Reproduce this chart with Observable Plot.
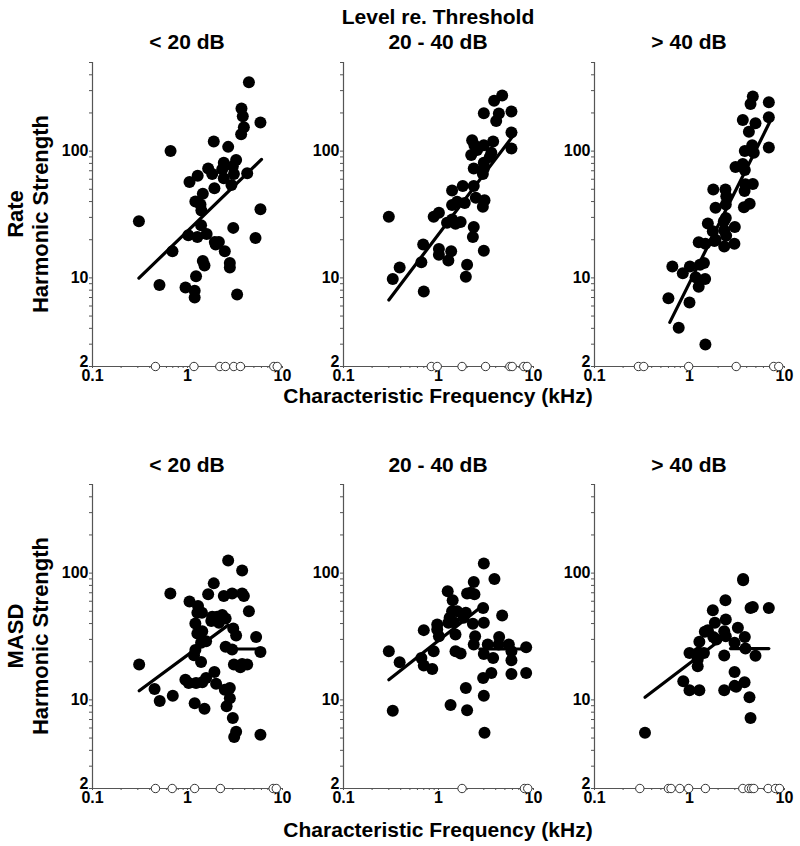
<!DOCTYPE html>
<html>
<head>
<meta charset="utf-8">
<script src="https://cdn.jsdelivr.net/npm/d3@7"></script>
<script src="https://cdn.jsdelivr.net/npm/@observablehq/plot@0.6"></script>
<style>
  body { margin: 0; background: #fff; }
  #fig { position: relative; width: 800px; height: 846px; font-family: "Liberation Sans", Arial, sans-serif; font-weight: bold; color: #000; }
  .lab { position: absolute; white-space: nowrap; transform: translate(-50%, -50%); font-size: 21px; font-weight: bold; line-height: 1; }
  .rot { transform: translate(-50%, -50%) rotate(-90deg); font-size: 22px; }
  .panel { position: absolute; }
</style>
</head>
<body>
<div id="fig"></div>
<script>
// ---- Text ----
const superTitle = "Level re. Threshold";
const levelTitles = ["< 20 dB", "20 - 40 dB", "> 40 dB"];
const rowNames = ["Rate", "MASD"];
const yTitle = "Harmonic Strength";
const xTitle = "Characteristic Frequency (kHz)";

// ---- Axis ticks ----
const xTickValues = [0.1,0.2,0.3,0.4,0.5,0.6,0.7,0.8,0.9,1,2,3,4,5,6,7,8,9,10];
const xTickLabels = [0.1, 1, 10];
const yTickValues = [2,3,4,5,6,7,8,9,10,20,30,40,50,60,70,80,90,100,200,300,400,500];
const yTickLabels = [10, 100, 500];
const yBottomLabel = [2];

// ---- Data: [CF (kHz), harmonic strength] ----
const rateLow = [[4.43,349],[3.70,217],[3.82,188],[3.92,154],[3.67,136],[5.86,168],[0.663,100],[1.89,119],[2.68,108],[2.41,81],[3.25,85],[3.0,76],[2.32,72],[1.65,73],[1.82,66],[1.28,64],[3.08,66],[4.25,67],[2.41,61],[1.05,57],[2.9,54],[1.92,51],[1.45,46],[1.21,40],[1.37,38],[1.40,34],[0.308,28],[1.39,26],[3.03,24.8],[1.02,21.7],[1.27,21],[1.59,22.2],[5.2,20.6],[1.94,19.2],[2.14,19.2],[1.98,18.3],[2.47,16.2],[0.695,16.2],[5.86,34.8],[1.45,13.6],[1.51,12.5],[2.79,13.1],[2.79,12.1],[1.23,10.3],[0.507,8.8],[0.953,8.4],[1.19,7.9],[1.19,7.0],[3.33,7.4]];
const rateMid = [[4.68,274],[3.85,250],[3.0,199],[4.32,198],[4.05,173],[5.86,205],[5.86,140],[5.86,105],[2.26,122],[2.39,111],[2.55,102],[3.0,111],[3.76,119],[2.21,93],[3.47,90],[3.6,97],[3.0,81],[2.35,73],[3.0,73],[2.93,66],[1.80,53],[2.35,53],[1.39,49],[2.47,42.9],[3.05,41],[1.89,39],[1.57,39.8],[1.39,37.5],[2.93,36.4],[1.01,32.6],[0.89,30.3],[0.30,30.3],[1.23,27.2],[1.39,28.9],[1.71,27.6],[1.51,26.7],[2.35,25.2],[2.3,21],[0.69,18.3],[1.01,16.9],[1.01,15.2],[1.36,16.2],[3.0,16.4],[1.27,13.7],[0.66,13.3],[2.0,12.7],[0.39,12.1],[0.33,9.8],[1.94,10.2],[0.70,7.8]];
const rateHigh = [[4.64,270],[4.39,235],[6.84,243],[6.84,185],[3.64,176],[4.95,166],[4.22,142],[4.57,111],[3.82,100],[4.75,97],[6.84,107],[3.64,79],[3.05,75],[3.82,71],[3.88,54.7],[4.64,55],[3.80,48.4],[1.78,49.9],[2.39,49.9],[2.44,44],[2.41,38],[1.88,35.7],[3.74,36],[4.3,38.4],[2.41,29.7],[1.56,26.9],[2.30,28],[3.0,25.2],[2.32,23.8],[1.76,23.3],[2.43,21.5],[1.88,20],[1.25,19.1],[1.47,18.6],[1.83,19.5],[2.32,17.7],[2.97,18.6],[1.42,13.1],[1.29,12.7],[1.01,12.3],[0.66,12.3],[0.85,10.9],[1.16,10.1],[1.46,9.8],[1.25,8.5],[0.60,6.9],[1.0,6.4],[0.77,4.05],[1.47,2.98]];
const masdLow = [[2.68,126],[3.76,105],[0.66,69],[1.89,83],[1.65,68],[2.41,66],[2.95,69],[3.76,69],[3.92,66],[1.05,59.6],[1.29,55],[1.27,48.7],[1.42,48.7],[4.43,50],[1.82,45.3],[2.05,45.3],[2.32,46.7],[2.52,43.9],[1.78,41.9],[2.14,40.6],[1.21,40.1],[3.03,36.6],[1.43,34.8],[1.27,33.4],[3.25,32.2],[5.28,31.4],[1.57,29],[1.39,28.2],[2.52,26.2],[2.95,25],[1.21,24.7],[1.17,22.5],[5.86,23.9],[1.39,19.9],[0.31,19],[3.08,19],[3.76,19.2],[4.25,19],[3.6,18.1],[1.92,16.6],[0.95,14.4],[1.03,13.6],[1.23,13.6],[1.43,13.8],[1.57,14.9],[2.0,13.4],[0.45,12.2],[2.47,12.0],[2.79,12.4],[0.70,10.8],[2.79,10.3],[0.51,9.8],[1.19,9.4],[2.58,8.9],[1.51,8.5],[3.0,7.2],[3.25,5.6],[3.1,5.1],[5.86,5.3]];
const masdMid = [[3.0,119],[3.88,90],[2.35,85],[1.25,72],[2.18,70],[2.39,68],[2.0,69],[1.41,61],[2.95,53],[1.39,50],[1.57,50],[1.94,48.7],[4.68,46.4],[1.31,44.5],[1.84,44.5],[1.27,40.6],[1.45,41],[2.3,39.8],[3.0,40.6],[0.97,39.4],[0.97,35.9],[0.70,35.5],[1.51,32.8],[2.43,31.8],[1.01,31.8],[4.35,31.4],[2.35,27.3],[4.3,27.3],[5.5,27.3],[8.37,26],[3.3,27.3],[0.89,24.2],[1.51,24.2],[1.71,23.2],[3.0,23],[0.30,24.2],[5.86,24.2],[3.76,21.4],[0.66,21.4],[0.39,19.8],[0.70,18.7],[5.86,20.5],[0.86,17.5],[3.6,16.3],[5.86,16.0],[8.37,16.3],[2.95,14.9],[1.94,12.4],[3.0,10.8],[1.34,9.1],[2.0,8.3],[0.33,8.2],[3.05,5.5]];
const masdHigh = [[3.67,90],[3.67,88],[2.39,61],[1.76,51],[4.39,53],[4.64,54],[6.84,53],[2.41,43],[1.85,40.6],[3.23,37],[1.56,35.5],[1.45,34.5],[2.32,34.8],[2.41,31.8],[1.78,31.4],[1.92,29.9],[3.82,31.3],[2.98,28.2],[1.27,28.7],[3.88,25.4],[1.0,23.4],[1.25,23.6],[1.42,23.4],[4.95,22.3],[2.32,22.4],[1.22,20.8],[1.22,18.4],[2.98,16.6],[0.86,14],[3.80,13.8],[2.98,12.9],[3.1,12.7],[1.0,11.9],[1.27,11.9],[2.32,11.9],[4.28,10.5],[4.39,7.2],[0.34,5.5]];

// Units with no measurable harmonic strength (plotted on the x axis), CF in kHz
const rateLowZero = [0.46,1.17,2.19,2.51,3.07,3.61,8.1,8.8];
const rateMidZero = [0.84,0.97,1.77,3.13,5.64,5.97,7.9,8.57];
const rateHighZero = [0.29,0.33,0.98,3.1,7.7,8.7];
const masdLowZero = [0.46,0.69,1.19,2.22,7.98,8.6];
const masdMidZero = [1.77,8.03,8.7];
const masdHighZero = [0.30,0.60,0.64,0.79,0.98,1.47,3.64,4.22,4.5,4.75,6.73,8.03,8.85];

// Fitted lines: [CF, strength] end points; each panel has one or two segments
const rateLowFit = [[[0.308,9.95],[6.01,86]]];
const rateMidFit = [[[0.30,6.7],[6.47,140]]];
const rateHighFit = [[[0.62,4.46],[6.95,168]]];
const masdLowFit = [[[0.31,11.8],[2.68,38.9]], [[2.84,25.2],[6.37,25.2]]];
const masdMidFit = [[[0.30,14.4],[2.72,53]], [[2.72,25.2],[8.57,25.2]]];
const masdHighFit = [[[0.34,10.5],[2.21,30.5]], [[2.70,25.4],[6.84,25.4]]];

const grid = [
  [[rateLow, rateLowZero, rateLowFit], [rateMid, rateMidZero, rateMidFit], [rateHigh, rateHighZero, rateHighFit]],
  [[masdLow, masdLowZero, masdLowFit], [masdMid, masdMidZero, masdMidFit], [masdHigh, masdHighZero, masdHighFit]]
];

// ---- Layout ----
const fig = document.getElementById("fig");
const axisLeft = [92, 343, 594];
const plotTop = [62, 484];
const mL = 40, mR = 15, mT = 10, mB = 22, plotW = 190, plotH = 304;
const axisColor = "#555";
const FONT = '"Liberation Sans", Arial, sans-serif';

function label(text, x, y, extra) {
  const d = document.createElement("div");
  d.className = "lab" + (extra ? " " + extra : "");
  d.textContent = text;
  d.style.left = x + "px";
  d.style.top = y + "px";
  fig.appendChild(d);
}

grid.forEach((row, ri) => {
  row.forEach(([pts, zeros, fits], ci) => {
    const segs = fits.flatMap((s, i) => s.map(p => ({x: p[0], y: p[1], seg: i})));
    const svg = Plot.plot({
      width: plotW + mL + mR,
      height: plotH + mT + mB,
      marginLeft: mL, marginRight: mR, marginTop: mT, marginBottom: mB,
      x: {type: "log", domain: [0.1, 10]},
      y: {type: "log", domain: [2, 500]},
      style: {fontFamily: FONT, fontSize: "16px", fontWeight: "bold", color: "#000", background: "transparent", overflow: "visible"},
      marks: [
        Plot.axisY({ticks: yTickValues, tickSize: 3, tickPadding: 1, stroke: axisColor, label: null,
          tickFormat: d => yTickLabels.includes(d) ? String(d) : "", fill: "#000",
          fontSize: 16, fontWeight: "bold", fontFamily: FONT}),
        Plot.text(yBottomLabel, {x: 0.1, y: d => d, text: d => String(d), dx: -4, dy: -5, textAnchor: "end",
          fill: "#000", fontSize: 16, fontWeight: "bold", fontFamily: FONT}),
        Plot.axisX({ticks: xTickValues, tickSize: 2, tickPadding: 1, stroke: axisColor, label: null,
          tickFormat: d => xTickLabels.includes(d) ? String(d) : "", fill: "#000",
          fontSize: 16, fontWeight: "bold", fontFamily: FONT}),
        Plot.ruleX([0.1], {stroke: axisColor, strokeWidth: 1.2}),
        Plot.ruleY([2], {stroke: axisColor, strokeWidth: 1.2}),
        Plot.line(segs, {x: "x", y: "y", z: "seg", stroke: "#000", strokeWidth: 3.2}),
        Plot.dot(pts, {x: d => d[0], y: d => d[1], r: 6, fill: "#000", stroke: "none"}),
        Plot.dot(zeros, {x: d => d, y: () => 2, r: 4.2, fill: "#fff", stroke: "#333", strokeWidth: 1})
      ]
    });
    svg.classList.add("panel");
    svg.style.left = (axisLeft[ci] - mL) + "px";
    svg.style.top = (plotTop[ri] - mT) + "px";
    fig.appendChild(svg);
  });
});

// Titles & axis labels
label(superTitle, 438, 16);
const titleY = [41, 464];
levelTitles.forEach((t, ci) => {
  const cx = axisLeft[ci] + plotW / 2;
  titleY.forEach(y => label(t, cx, y));
});
label(xTitle, 438, 395);
label(xTitle, 438, 829);
rowNames.forEach((n, ri) => {
  const cy = plotTop[ri] + plotH / 2;
  label(n, 16, cy, "rot");
  label(yTitle, 41, cy, "rot");
});
</script>
</body>
</html>
